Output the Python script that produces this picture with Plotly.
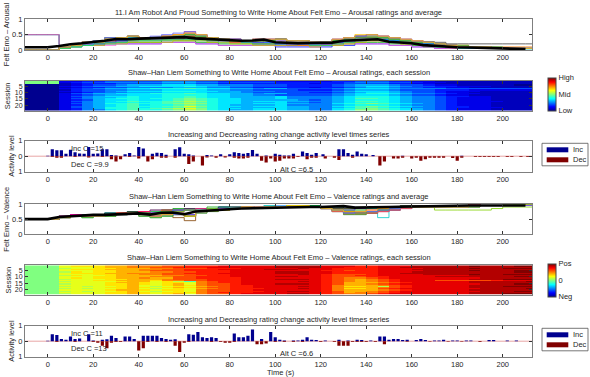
import plotly.graph_objects as go

W, H = 590, 377
FONT = "Liberation Sans, Arial, Helvetica, sans-serif"
TXT = "#262626"
AXC = "#7f7f7f"

# ---------------- data ----------------
TIME = list(range(-10, 215, 5))          # rating sample times (s)
XTICKS = [0, 20, 40, 60, 80, 100, 120, 140, 160, 180, 200]

# session ratings, one letter per 5 s sample: a=0.00, b=0.05, ... u=1.00
AROUSAL_ROWS = [
    "kkkcc ddeee eefff eeddd ddccc ccdde eeddc cbbbb bbbbb",
    "kkkcd eefff ffggg ffeee eeddd dddef ffeed ccbbb bbbbb",
    "kkkbc dddee eefff eeddd ddddd cddee eeddc cbbbb bbbbb",
    "aaabc deefg gghhh ggfff eeedd ddefg ggfee dccbb bbbaa",
    "aaacd effgg hhhhi hggff eeedd ddefg hhgfe eddcc cbbbb",
    "aaabc ddeef fffgg gffee ddddd cddef ggfee ddccb bbbbb",
    "aaacd efggh hiiij ihhgg fggee eefgh hhgff ffeee eeeee",
    "aaabd eeffg gghhh hggff eeeed ddefg ggfee edddc ccccc",
    "aaacd eefgh hhiii hhggf ffeee eefgh hhgfe edccc bbbbb",
    "aaabc deffg gghhh hgggf eeeee ddefg hhgfe edccb bbbbb",
    "aaace fgghh hiiij ihhgg fggee eefgh iihgf fedcc bbbbb",
    "aaacd efggh hhiii ihhgg ffeee eefgh hhgfe edccb bbbbb",
    "aaace fghhi hhiij ihhgg gghff ffghi iihgf feddc cbbbb",
    "aaacd fgghi hhiij ihhgg gghff ffghi iihgf fedcc cbbbb",
    "aaace fghii hiijk jihhg gghff ffghj jihgf fedcc cbbbb",
    "aaacd eghhi hhijk jihhg ggggf efghi iihgf fedcc cbbbb",
    "aaace fghij iijkl kihhg hhhgg ffghj jihgf fedcc ccbbb",
    "aaacd fghhi hijjk jihhg gghff efghi iihgf fedcc cbbbb",
    "aaace fgiij iijkl kihhg hhhgg ffhij kjihg fedcc cbbbb",
    "aaacd fghij hiijk jihgg gghff ffghi iihgf fedcc cbbbb",
    "aaace fghij iijkm kihhg hhhgg ffhij kjihg feddc cbbbb",
    "aaace fgiij hiijk jihgg gghgg ffghj jihgf feddc ccbbb",
    "aaacd fgiij ijklm kihhg hhhgg ffhij kjihg fedcc cbbbb",
    "aaacd ffhij iijkl kihgg hhhgg ffhik kjihg fedcc cbbbb",
]
VALENCE_ROWS = [
    "kkkmn nnoop ppqqr rrsss ssttt tsssr rssst ttttu tttuu",
    "kkkmm mnoop pqqrr rssss ssttt tssrr rsstt ttttt ttttt",
    "kkklm mnnoo oppqq qrrrs sssst ssrrr rssss ttttu ttuuu",
    "kkkmn nnooo ppqqr rrsss sttts ssrrr rssst ttttt ttttt",
    "kkkmm mnnoo pqqqr rrrss sssss srrqr rssss ttttu tttuu",
    "kkkln mnnoo oppqq rrrss ssttt ssrrr rssst ttttt tttuu",
    "kkkmn nnoop ppqqr rrsss ssttt ssrrr rsstt ttttt ttttt",
    "kkkmm mnnoo ppqqq rrrss sssst srqqq rssss ttttu ttuuu",
    "kkkln mmnoo ooppq qrrss sssss srqqr rssss sssst ttttt",
    "kkkmm mnnoo oppqq rrrss sstts srqqq rrsss stttt tttuu",
    "kkkmn mnnoo pooqq rrrrs sssss srqpp qrsss sssss ttttt",
    "kkklm mmnno oopqq qrrrs ssttt srqpo pqrss sssst ttuuu",
    "kkkmm mnnoo onppq qrrrs sssss srqpo pqrss sqqqq qrsss",
    "kkklm mmmno omnlj pqrrs sssst srqpo pqrss sssst ttttu",
    "kkkmm mmnoo nmnnm pqrrs sssss srqoo opqrs sssst ttttt",
    "kkklm mmnno nmnom pqqrs ssttt srqoo pqrss sssss tttuu",
    "kkkmm mmnno mmnon pqqrr sssss srpoo opqrs sssst ttttt",
    "kkklm lmmno mlmnm opqrr sssst srpnn olqrs sssst ttuuu",
    "kkkmm mmnno nmnon pqqrr sssss srpoo opqrs sssst ttttt",
    "kkklm lmmno mlmnm opqrr rssst srpnn oqrss sssss ttttu",
    "kkkmm mmnoo nmnnm pqqrr sssss srpoo opqrs sssst ttttt",
    "kkklm lmmno mlmnm pqqrr rsstt srqoo pqrss sssss tttuu",
    "kkkmm mmnno nmnnn pqrrr sssss srqop pqrss sssst ttttt",
    "kkklm mmnno nmnom pqqrs ssstt srqpp qrsss sssst ttuuu",
]
AVG_AROUSAL = [0.09, 0.09, 0.09, 0.13, 0.19, 0.22, 0.25, 0.30, 0.36, 0.35,
               0.37, 0.38, 0.39, 0.40, 0.42, 0.38, 0.36, 0.32, 0.30, 0.30,
               0.31, 0.34, 0.25, 0.23, 0.22, 0.23, 0.24, 0.24, 0.30, 0.32,
               0.33, 0.35, 0.27, 0.24, 0.22, 0.16, 0.13, 0.10, 0.09, 0.08,
               0.07, 0.06, 0.05, 0.04, 0.03]
AVG_VALENCE = [0.50, 0.50, 0.50, 0.57, 0.60, 0.62, 0.64, 0.64, 0.66, 0.67,
               0.69, 0.65, 0.71, 0.72, 0.66, 0.75, 0.78, 0.81, 0.84, 0.85,
               0.86, 0.87, 0.89, 0.90, 0.91, 0.90, 0.90, 0.92, 0.93, 0.88,
               0.88, 0.88, 0.90, 0.91, 0.92, 0.93, 0.93, 0.94, 0.95, 0.95,
               0.95, 0.95, 0.95, 0.95, 0.95]

# activity level bars: arousal
A_INC_T = [0, 2, 4, 6, 8, 10, 12, 14, 16, 18, 20, 22, 24, 26, 28, 30, 34, 36, 38, 40,
           42, 46, 48, 50, 52, 56, 58, 60, 62, 64, 70, 72, 76, 80, 82, 84, 86, 88, 90, 92,
           96, 100, 102, 104, 106, 108, 112, 114, 116, 118, 121, 128, 130, 132, 134, 136, 138, 140, 143, 156,
           182]
A_INC_V = [0.03, 0.45, 0.38, 0.38, 0.15, 0.42, 0.25, 0.17, 0.15, 0.6, 0.15, 0.17, 0.45, 0.45, 0.08, 0.05, 0.12, 0.2, 0.05, 0.6,
           0.5, 0.15, 0.22, 0.2, 0.1, 0.45, 0.58, 0.15, 0.12, 0.05, 0.08, 0.05, 0.12, 0.12, 0.25, 0.2, 0.15, 0.2, 0.4, 0.15,
           0.05, 0.15, 0.1, 0.05, 0.05, 0.15, 0.3, 0.2, 0.1, 0.2, 0.12, 0.45, 0.45, 0.2, 0.1, 0.3, 0.15, 0.12, 0.08, 0.03,
           0.03]
A_DEC_T = [2, 4, 6, 12, 18, 24, 28, 30, 32, 36, 40, 44, 46, 50, 52, 56, 62, 64, 68, 70,
           74, 78, 82, 84, 86, 88, 94, 96, 98, 100, 102, 104, 106, 108, 110, 114, 116, 118, 122, 126,
           128, 134, 146, 148, 152, 154, 156, 160, 162, 164, 166, 168, 170, 172, 174, 178, 180, 182, 188, 190,
           192, 194, 196, 198, 202, 204, 208, 211]
A_DEC_V = [0.05, 0.1, 0.1, 0.05, 0.08, 0.05, 0.2, 0.35, 0.2, 0.05, 0.15, 0.35, 0.2, 0.1, 0.1, 0.1, 0.5, 0.35, 0.6, 0.08,
           0.1, 0.08, 0.1, 0.15, 0.15, 0.1, 0.3, 0.4, 0.15, 0.35, 0.3, 0.15, 0.15, 0.15, 0.05, 0.2, 0.1, 0.1, 0.15, 0.1,
           0.25, 0.1, 0.6, 0.35, 0.15, 0.15, 0.1, 0.15, 0.1, 0.3, 0.2, 0.1, 0.1, 0.1, 0.1, 0.12, 0.3, 0.1, 0.05, 0.05,
           0.05, 0.05, 0.05, 0.05, 0.05, 0.05, 0.05, 0.05]
# activity level bars: valence
V_INC_T = [0, 2, 4, 6, 8, 10, 12, 14, 18, 20, 24, 26, 28, 30, 34, 36, 38, 42, 44, 46,
           48, 50, 52, 54, 56, 62, 64, 66, 68, 70, 72, 74, 82, 84, 86, 88, 90, 94, 98, 100,
           102, 104, 108, 110, 112, 114, 116, 118, 122, 128, 132, 136, 138, 142, 146, 148, 150, 152, 154, 156,
           158, 162, 164, 166, 170, 172, 174, 178, 180, 184, 186, 194, 196, 202, 206]
V_INC_V = [0.03, 0.45, 0.4, 0.15, 0.1, 0.3, 0.15, 0.17, 0.45, 0.05, 0.1, 0.12, 0.35, 0.2, 0.3, 0.3, 0.15, 0.35, 0.35, 0.35,
           0.35, 0.2, 0.15, 0.1, 0.12, 0.45, 0.42, 0.6, 0.25, 0.2, 0.25, 0.2, 0.5, 0.25, 0.25, 0.35, 0.75, 0.15, 0.6, 0.25,
           0.1, 0.05, 0.05, 0.05, 0.1, 0.25, 0.1, 0.08, 0.05, 0.1, 0.05, 0.1, 0.08, 0.05, 0.3, 0.3, 0.1, 0.15, 0.15, 0.08,
           0.1, 0.08, 0.15, 0.08, 0.05, 0.05, 0.1, 0.05, 0.05, 0.05, 0.05, 0.08, 0.08, 0.05, 0.05]
V_DEC_T = [4, 12, 20, 22, 24, 26, 28, 30, 32, 40, 42, 44, 48, 52, 56, 58, 60, 62, 72, 76,
           78, 80, 82, 92, 94, 96, 100, 104, 108, 112, 120, 126, 128, 130, 132, 134, 136, 138, 140, 144,
           148, 158, 168, 176, 182, 190]
V_DEC_V = [0.05, 0.05, 0.05, 0.1, 0.3, 0.45, 0.1, 0.05, 0.05, 0.6, 0.45, 0.05, 0.05, 0.05, 0.3, 0.7, 0.1, 0.05, 0.05, 0.05,
           0.1, 0.1, 0.05, 0.2, 0.2, 0.15, 0.05, 0.05, 0.05, 0.05, 0.05, 0.05, 0.3, 0.3, 0.3, 0.05, 0.05, 0.05, 0.05, 0.05,
           0.2, 0.03, 0.03, 0.03, 0.03, 0.05]

TITLES = [
    "11.I Am Robot And Proud Something to Write Home About Felt Emo – Arousal ratings and average",
    "Shaw–Han Liem Something to Write Home About Felt Emo – Arousal ratings, each session",
    "Increasing and Decreasing rating change activity level times series",
    "Shaw–Han Liem Something to Write Home About Felt Emo – Valence ratings and average",
    "Shaw–Han Liem Something to Write Home About Felt Emo – Valence ratings, each session",
    "Increasing and Decreasing rating change activity level times series",
]
YLABELS = ["Felt Emo – Arousal", "Session", "Activity level",
           "Felt Emo – Valence", "Session", "Activity level"]
A_STATS = ["Inc C =15", "Dec C =9.9", "Alt C =6.5"]
V_STATS = ["Inc C =11", "Dec C =13", "Alt C =6.6"]

SESSION_COLORS = ["#0000ff", "#00a000", "#ff66dd", "#00c0c0", "#c000c0", "#c0c000",
                  "#404040", "#ff8000", "#8000ff", "#00e080", "#ff0080", "#0080ff",
                  "#80d000", "#804000", "#ff0000", "#80c0ff", "#a0a0a0", "#00c8c8",
                  "#800080", "#808000", "#ff6060", "#40c040", "#6060ff", "#ffc000"]
INC_COLOR = "#00008f"
DEC_COLOR = "#800000"
JET = [[0.0, "#00008f"], [0.125, "#0000ff"], [0.375, "#00ffff"],
       [0.625, "#ffff00"], [0.875, "#ff0000"], [1.0, "#800000"]]


def decode(row):
    s = row.replace(" ", "")
    s = (s + s[-1] * len(TIME))[:len(TIME)]
    return [(ord(c) - 97) * 0.05 for c in s]


AROUSAL = [decode(r) for r in AROUSAL_ROWS]
VALENCE = [decode(r) for r in VALENCE_ROWS]
SESSIONS = list(range(1, len(AROUSAL) + 1))
EDGES = TIME + [TIME[-1] + 5]

# ---------------- layout helpers ----------------
def xp(px):
    return px / W


def yp(px):
    return 1 - px / H


PANELS = [(19.3, 50.0), (80.7, 110.7), (140.7, 171.7),
          (204.0, 234.3), (265.3, 294.7), (325.7, 356.7)]
X0, X1 = 25.0, 532.3
TITLE_Y = [12.5, 72.3, 135.0, 196.7, 257.0, 319.3]
YLAB_X = [6.5, 7.5, 11.5, 6.5, 7.5, 11.5]

fig = go.Figure()

# panel 1: arousal lines + average
for i, row in enumerate(AROUSAL):
    fig.add_trace(go.Scatter(x=EDGES, y=row + [row[-1]], mode="lines", line_shape="hv",
                             line=dict(color=SESSION_COLORS[i % len(SESSION_COLORS)], width=0.8),
                             xaxis="x", yaxis="y", showlegend=False, hoverinfo="skip"))
fig.add_trace(go.Scatter(x=TIME, y=AVG_AROUSAL, mode="lines", line=dict(color="black", width=2.6),
                         xaxis="x", yaxis="y", showlegend=False))

# panel 2: arousal heatmap
fig.add_trace(go.Heatmap(x=EDGES, y=SESSIONS, z=AROUSAL, zmin=0, zmax=1, colorscale=JET,
                         xaxis="x2", yaxis="y2",
                         colorbar=dict(x=xp(548.3), xanchor="left", xpad=0, thickness=7.5,
                                       len=33, lenmode="pixels", y=yp(94.2), yanchor="middle",
                                       ypad=0, tickvals=[0, 0.5, 1], ticktext=["Low", "Mid", "High"],
                                       ticks="", outlinewidth=1, outlinecolor="#444",
                                       tickfont=dict(size=7.5, color=TXT, family=FONT))))

# panel 3: arousal activity bars
fig.add_trace(go.Bar(x=A_INC_T, y=A_INC_V, width=1.4, marker=dict(color=INC_COLOR, line_width=0),
                     xaxis="x3", yaxis="y3", showlegend=False, name="Inc"))
fig.add_trace(go.Bar(x=A_DEC_T, y=[-v for v in A_DEC_V], width=1.4,
                     marker=dict(color=DEC_COLOR, line_width=0),
                     xaxis="x3", yaxis="y3", showlegend=False, name="Dec"))

# panel 4: valence lines + average
for i, row in enumerate(VALENCE):
    fig.add_trace(go.Scatter(x=EDGES, y=row + [row[-1]], mode="lines", line_shape="hv",
                             line=dict(color=SESSION_COLORS[i % len(SESSION_COLORS)], width=0.8),
                             xaxis="x4", yaxis="y4", showlegend=False, hoverinfo="skip"))
fig.add_trace(go.Scatter(x=TIME, y=AVG_VALENCE, mode="lines", line=dict(color="black", width=2.6),
                         xaxis="x4", yaxis="y4", showlegend=False))

# panel 5: valence heatmap
fig.add_trace(go.Heatmap(x=EDGES, y=SESSIONS, z=VALENCE, zmin=0, zmax=1, colorscale=JET,
                         xaxis="x5", yaxis="y5",
                         colorbar=dict(x=xp(548.3), xanchor="left", xpad=0, thickness=7.5,
                                       len=33.3, lenmode="pixels", y=yp(280.3), yanchor="middle",
                                       ypad=0, tickvals=[0, 0.5, 1], ticktext=["Neg", "0", "Pos"],
                                       ticks="", outlinewidth=1, outlinecolor="#444",
                                       tickfont=dict(size=7.5, color=TXT, family=FONT))))

# panel 6: valence activity bars
fig.add_trace(go.Bar(x=V_INC_T, y=V_INC_V, width=1.4, marker=dict(color=INC_COLOR, line_width=0),
                     xaxis="x6", yaxis="y6", showlegend=False, name="Inc"))
fig.add_trace(go.Bar(x=V_DEC_T, y=[-v for v in V_DEC_V], width=1.4,
                     marker=dict(color=DEC_COLOR, line_width=0),
                     xaxis="x6", yaxis="y6", showlegend=False, name="Dec"))

layout = dict(width=W, height=H, margin=dict(l=0, r=0, t=0, b=0, autoexpand=False),
              paper_bgcolor="white", plot_bgcolor="white", barmode="overlay",
              font=dict(family=FONT, size=7.5, color=TXT), showlegend=False)

tickfont = dict(size=7.5, color=TXT, family=FONT)
yconf = [
    dict(range=[0, 1], tickvals=[0, 0.5, 1], ticktext=["0", "0.5", "1"]),
    dict(range=[len(SESSIONS) + 0.5, 0.5], tickvals=[5, 10, 15, 20], tickfont=dict(size=7, color=TXT, family=FONT)),
    dict(range=[-1, 1], tickvals=[-1, 0, 1], ticktext=["1", "0", "1"]),
    dict(range=[0, 1], tickvals=[0, 0.5, 1], ticktext=["0", "0.5", "1"]),
    dict(range=[len(SESSIONS) + 0.5, 0.5], tickvals=[5, 10, 15, 20], tickfont=dict(size=7, color=TXT, family=FONT)),
    dict(range=[-1, 1], tickvals=[-1, 0, 1], ticktext=["1", "0", "1"]),
]
annotations = []
shapes = []
for k, (top, bot) in enumerate(PANELS):
    n = "" if k == 0 else str(k + 1)
    layout["xaxis" + n] = dict(domain=[xp(X0), xp(X1)], range=[-10, 213], anchor="y" + n,
                               tickvals=XTICKS, ticks="inside", ticklen=3, tickcolor="#333",
                               mirror="ticks", showline=True, linecolor=AXC, linewidth=1,
                               showgrid=False, zeroline=False, tickfont=tickfont, fixedrange=True)
    yc = dict(domain=[yp(bot), yp(top)], anchor="x" + n, ticks="inside", ticklen=3,
              tickcolor="#333", mirror="ticks", showline=True, linecolor=AXC, linewidth=1,
              showgrid=False, zeroline=False, tickfont=tickfont, fixedrange=True)
    yc.update(yconf[k])
    layout["yaxis" + n] = yc
    annotations.append(dict(text=TITLES[k], x=xp((X0 + X1) / 2), y=yp(TITLE_Y[k]),
                            xref="paper", yref="paper", showarrow=False,
                            xanchor="center", yanchor="middle",
                            font=dict(size=7.5, color=TXT, family=FONT)))
    annotations.append(dict(text=YLABELS[k], x=xp(YLAB_X[k]), y=yp((top + bot) / 2),
                            xref="paper", yref="paper", showarrow=False, textangle=-90,
                            xanchor="center", yanchor="middle",
                            font=dict(size=7.5, color=TXT, family=FONT)))

# stats text + zero lines on activity panels
for n, stats, ys in (("3", A_STATS, (0.5, -0.55, -0.85)), ("6", V_STATS, (0.5, -0.5, -0.8))):
    for txt, xv, yv in zip(stats, (9.5, 9.5, 101), ys):
        annotations.append(dict(text=txt, x=xv, y=yv, xref="x" + n, yref="y" + n,
                                showarrow=False, xanchor="left", yanchor="middle",
                                font=dict(size=7.5, color=TXT, family=FONT)))
    shapes.append(dict(type="line", xref="x" + n, yref="y" + n, x0=-10, x1=213, y0=0, y1=0,
                       line=dict(color="#e08080", width=0.7), layer="below"))

# legends drawn as boxes
for top in (143.3, 328.3):
    shapes.append(dict(type="rect", xref="paper", yref="paper", x0=xp(542), x1=xp(588),
                       y0=yp(top + 22.5), y1=yp(top), line=dict(color="#555", width=0.8),
                       fillcolor="white", layer="below"))
    shapes.append(dict(type="rect", xref="paper", yref="paper", x0=xp(546.7), x1=xp(568.3),
                       y0=yp(top + 9), y1=yp(top + 4), line_width=0, fillcolor=INC_COLOR))
    shapes.append(dict(type="rect", xref="paper", yref="paper", x0=xp(546.7), x1=xp(568.3),
                       y0=yp(top + 19), y1=yp(top + 14), line_width=0, fillcolor=DEC_COLOR))
    annotations.append(dict(text="Inc", x=xp(570.5), y=yp(top + 6.5), xref="paper", yref="paper",
                            showarrow=False, xanchor="left", yanchor="middle",
                            font=dict(size=7.5, color=TXT, family=FONT)))
    annotations.append(dict(text="Dec", x=xp(570.5), y=yp(top + 16.5), xref="paper", yref="paper",
                            showarrow=False, xanchor="left", yanchor="middle",
                            font=dict(size=7.5, color=TXT, family=FONT)))

annotations.append(dict(text="Time (s)", x=xp(281), y=yp(372.3), xref="paper", yref="paper",
                        showarrow=False, xanchor="center", yanchor="middle",
                        font=dict(size=7.5, color=TXT, family=FONT)))

layout["annotations"] = annotations
layout["shapes"] = shapes
fig.update_layout(**layout)
fig.write_html("out.html", config={"displayModeBar": False, "staticPlot": True},
               post_script="document.body.style.margin='0px';document.body.style.overflow='hidden';")
